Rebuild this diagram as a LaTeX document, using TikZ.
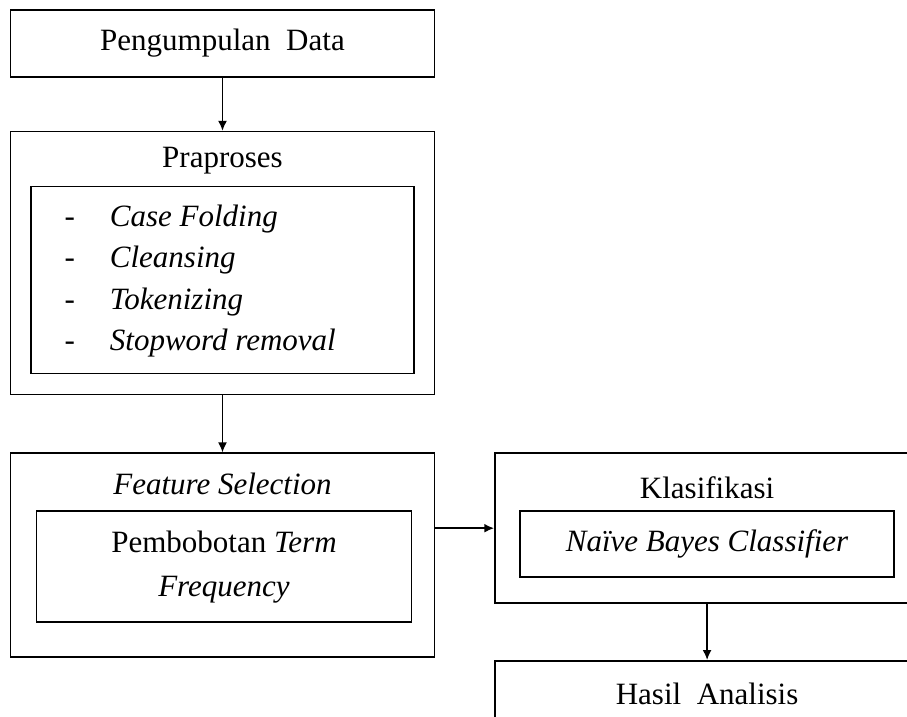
\documentclass[tikz,border=0pt]{standalone}
\usepackage{fontspec}
\setmainfont{Liberation Serif}
\usepackage{tikz}
\tikzset{mybox/.style={draw,line width=0.8pt,inner sep=0pt},
  outerbox/.style={mybox,minimum width=212pt},
  title/.style={inner sep=0pt}}
\usetikzlibrary{positioning,arrows.meta}

\begin{document}
\begin{tikzpicture}[x=0.5pt,y=-0.5pt,font=\fontsize{15.5}{20.75}\selectfont,>={Latex[length=5pt,width=4.5pt]}]
    \clip (0,0) rectangle (907,717);
    \node[outerbox,minimum height=33.5pt] (data) at (222.5,43.5) {Pengumpulan\ \ Data};
    \node[outerbox,minimum height=131.5pt,below=26.5pt of data] (prep) {};
    \node[title] (preptitle) at ([yshift=-15pt]prep.north) {Praproses};
    \node[mybox,minimum width=191.5pt,minimum height=93.5pt] (prepin) at ([yshift=-8.5pt]prep.center) {};
    \node[anchor=west,inner sep=0pt] (steps) at ([xshift=17pt]prepin.west) {%
      \begin{tabular}{@{}l@{\hspace{17.5pt}}l@{}}
        - & \textit{Case Folding}\\
        - & \textit{Cleansing}\\
        - & \textit{Tokenizing}\\
        - & \textit{Stopword removal}
      \end{tabular}};
    \node[outerbox,minimum height=102pt,below=28.5pt of prep] (feat) {};
    \node[title] (feattitle) at ([yshift=-16pt]feat.north) {\textit{Feature Selection}};
    \node[mybox,minimum width=187.5pt,minimum height=55.5pt,align=center] (featin) at ([xshift=0.75pt,yshift=-5.75pt]feat.center) {Pembobotan \textit{Term}\\[1.25pt]\textit{Frequency}};
    \node[outerbox,minimum height=75pt,anchor=north west] (klas) at ([xshift=29.5pt]feat.north east) {};
    \node[title] (klastitle) at ([yshift=-17.5pt]klas.north) {Klasifikasi};
    \node[mybox,minimum width=187pt,minimum height=33pt] (klasin) at ([yshift=-8pt]klas.center) {\textit{Naïve Bayes Classifier}};
    \node[outerbox,minimum height=33.5pt,below=28pt of klas] (hasil) {Hasil\ \ Analisis};
    \draw[->,line width=0.8pt] (data.south) -- (prep.north);
    \draw[->,line width=0.8pt] (prep.south) -- (feat.north);
    \draw[->,line width=1pt] (feat.east |- klas.west) -- (klas.west);
    \draw[->,line width=0.8pt] (klas.south) -- (hasil.north);
\end{tikzpicture}
\end{document}
